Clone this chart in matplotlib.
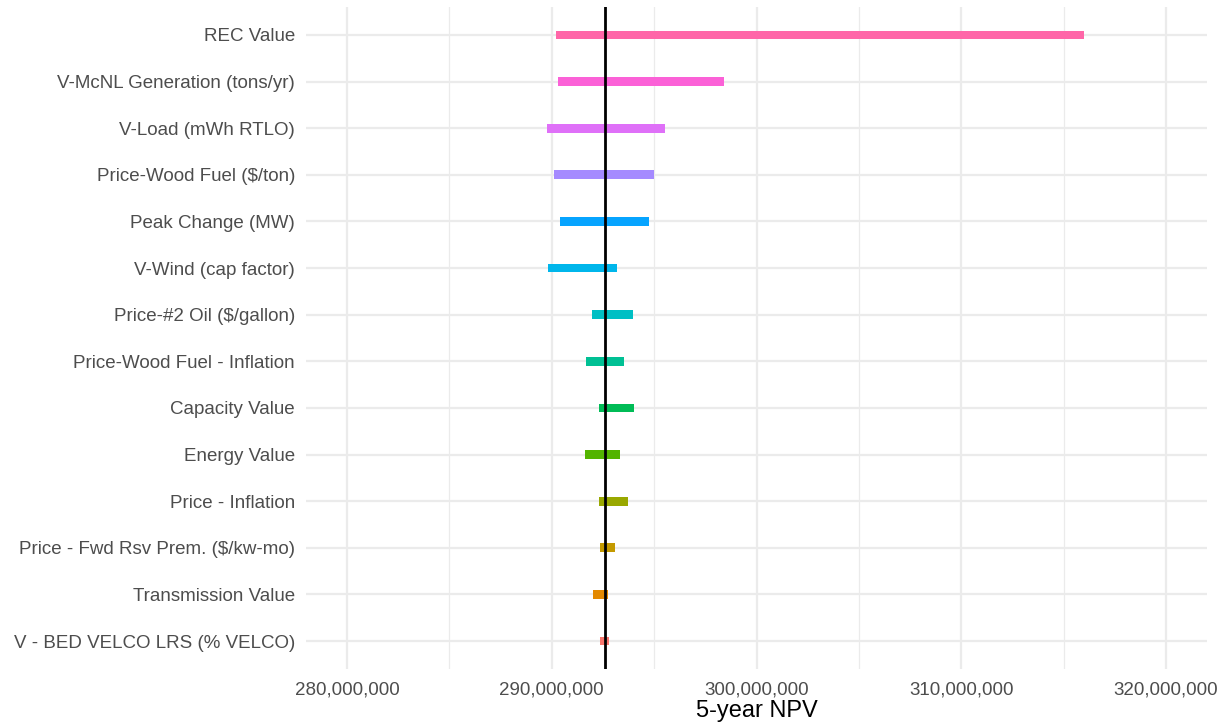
import numpy as np
import matplotlib
matplotlib.use("Agg")
import matplotlib.pyplot as plt
from matplotlib.ticker import FuncFormatter, MultipleLocator

# Sensitivity inputs, listed bottom to top
variables = [
    "V - BED VELCO LRS (% VELCO)",
    "Transmission Value",
    "Price - Fwd Rsv Prem. ($/kw-mo)",
    "Price - Inflation",
    "Energy Value",
    "Capacity Value",
    "Price-Wood Fuel - Inflation",
    "Price-#2 Oil ($/gallon)",
    "V-Wind (cap factor)",
    "Peak Change (MW)",
    "Price-Wood Fuel ($/ton)",
    "V-Load (mWh RTLO)",
    "V-McNL Generation (tons/yr)",
    "REC Value",
]
# 5-year NPV at the low and high end of each input's range
npv_low = [292.36e6, 292.03e6, 292.34e6, 292.30e6, 291.61e6, 292.30e6, 291.66e6,
           291.95e6, 289.84e6, 290.42e6, 290.13e6, 289.77e6, 290.29e6, 290.19e6]
npv_high = [292.82e6, 292.76e6, 293.10e6, 293.71e6, 293.31e6, 294.04e6, 293.55e6,
            293.97e6, 293.20e6, 294.77e6, 294.99e6, 295.52e6, 298.42e6, 316.00e6]
base_npv = 292.60e6


def hue_palette(n, l=65.0, c=100.0, h0=15.0):
    """Evenly spaced HCL (polar Luv) hues converted to sRGB hex."""
    hues = np.linspace(h0, h0 + 360, n + 1)[:-1]
    xn, yn, zn = 95.047, 100.000, 108.883
    un = 4 * xn / (xn + 15 * yn + 3 * zn)
    vn = 9 * yn / (xn + 15 * yn + 3 * zn)
    out = []
    for h in hues:
        u = c * np.cos(np.radians(h))
        v = c * np.sin(np.radians(h))
        Y = yn * ((l + 16) / 116) ** 3
        up = u / (13 * l) + un
        vp = v / (13 * l) + vn
        X = 9.0 * Y * up / (4 * vp)
        Z = -X / 3 - 5 * Y + 3 * Y / vp
        xyz = np.array([X, Y, Z]) / 100.0
        m = np.array([[3.240479, -1.537150, -0.498535],
                      [-0.969256, 1.875992, 0.041556],
                      [0.055648, -0.204043, 1.057311]])
        rgb = m @ xyz
        rgb = np.where(rgb <= 0.0031308, 12.92 * rgb,
                       1.055 * np.power(np.clip(rgb, 0, None), 1 / 2.4) - 0.055)
        rgb = np.clip(rgb, 0, 1)
        out.append("#%02X%02X%02X" % tuple(int(round(x * 255)) for x in rgb))
    return out


colors = hue_palette(len(variables))

W, H = 1230, 725
fig = plt.figure(figsize=(W / 100, H / 100), dpi=100)
fig.patch.set_facecolor("white")
ax = fig.add_axes([306 / W, (H - 669) / H, (1207 - 306) / W, (669 - 7) / H])
ax.set_facecolor("white")

ypos = np.arange(len(variables))
lows = np.array(npv_low)
highs = np.array(npv_high)
ax.barh(ypos, highs - lows, left=lows, height=0.19, color=colors,
        edgecolor="none", zorder=3)
ax.axvline(base_npv, color="black", lw=2.0, zorder=4)

ax.set_xlim(278e6, 322e6)
ax.set_ylim(-0.6, len(variables) - 1 + 0.6)
ax.xaxis.set_major_locator(MultipleLocator(10e6))
ax.xaxis.set_minor_locator(MultipleLocator(5e6))
ax.xaxis.set_major_formatter(FuncFormatter(lambda v, p: f"{v:,.0f}"))
ax.set_yticks(ypos)
ax.set_yticklabels(variables)

ax.grid(which="major", color="#EBEBEB", lw=1.6, zorder=0)
ax.grid(which="minor", axis="x", color="#EBEBEB", lw=0.9, zorder=0)
ax.set_axisbelow(True)
for s in ax.spines.values():
    s.set_visible(False)
ax.tick_params(which="both", length=0)
ax.tick_params(axis="x", pad=9, labelsize=13.5, labelcolor="#4D4D4D")
ax.tick_params(axis="y", pad=8, labelsize=13.5, labelcolor="#4D4D4D")
for lab in ax.get_xticklabels() + ax.get_yticklabels():
    lab.set_fontfamily("Liberation Sans")

# Axis title centred under the panel
fig.text((306 + 1207) / 2 / W, 1 - 711 / H, "5-year NPV", ha="center",
         va="center", fontsize=17, fontfamily="Liberation Sans", color="black")

fig.savefig("out.png", dpi=100, facecolor="white")
